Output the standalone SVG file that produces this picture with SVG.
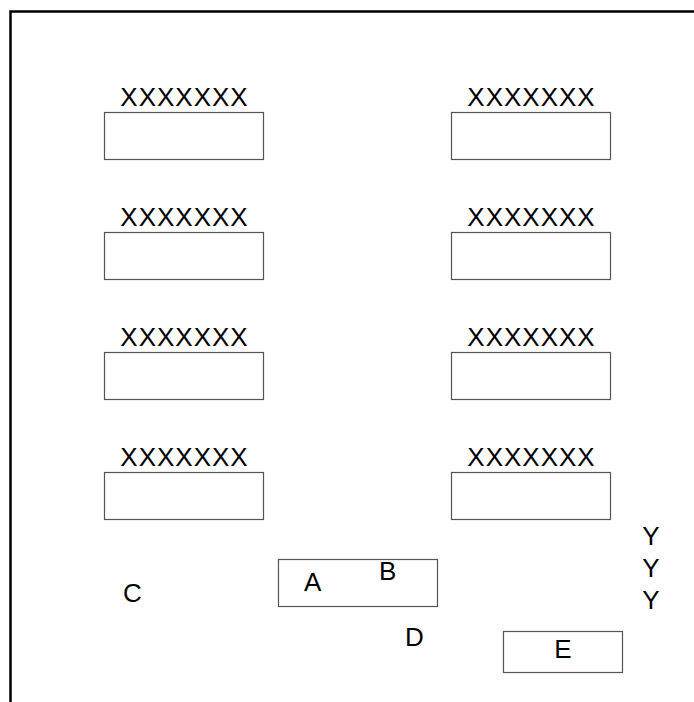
<svg xmlns="http://www.w3.org/2000/svg" width="694" height="702" viewBox="0 0 694 702">
<style>
.t{font-family:"Liberation Sans",Arial,sans-serif;font-size:26px;fill:#000}
.x{font-size:26px;letter-spacing:1px}
.m{text-anchor:middle}
.b{fill:#fff;stroke:#555;stroke-width:1.2}
</style>
<rect width="694" height="702" fill="#fff"/>
<path d="M10.5,702 V11.5 H694" fill="none" stroke="#000" stroke-width="2.5"/>
<g id="n1"><text class="t x m" x="184.5" y="106">XXXXXXX</text><rect class="b" x="104.5" y="112.5" width="159" height="47"/></g>
<g id="n2"><text class="t x m" x="531.5" y="106">XXXXXXX</text><rect class="b" x="451.5" y="112.5" width="159" height="47"/></g>
<g id="n3"><text class="t x m" x="184.5" y="226">XXXXXXX</text><rect class="b" x="104.5" y="232.5" width="159" height="47"/></g>
<g id="n4"><text class="t x m" x="531.5" y="226">XXXXXXX</text><rect class="b" x="451.5" y="232.5" width="159" height="47"/></g>
<g id="n5"><text class="t x m" x="184.5" y="346">XXXXXXX</text><rect class="b" x="104.5" y="352.5" width="159" height="47"/></g>
<g id="n6"><text class="t x m" x="531.5" y="346">XXXXXXX</text><rect class="b" x="451.5" y="352.5" width="159" height="47"/></g>
<g id="n7"><text class="t x m" x="184.5" y="466">XXXXXXX</text><rect class="b" x="104.5" y="472.5" width="159" height="47"/></g>
<g id="n8"><text class="t x m" x="531.5" y="466">XXXXXXX</text><rect class="b" x="451.5" y="472.5" width="159" height="47"/></g>
<g id="nAB"><rect class="b" x="278.5" y="559.5" width="159" height="47"/><text class="t" x="304" y="591">A</text><text class="t" x="379" y="580">B</text></g>
<g id="nC"><text class="t" x="123" y="602">C</text></g>
<g id="nD"><text class="t" x="405" y="646">D</text></g>
<g id="nE"><rect class="b" x="503.5" y="631.5" width="119" height="41" stroke="#333"/><text class="t m" x="563" y="658">E</text></g>
<g id="nY"><text class="t m" x="651" y="545">Y</text><text class="t m" x="651" y="577">Y</text><text class="t m" x="651" y="609">Y</text></g>
<g id="connectors"></g>
</svg>
